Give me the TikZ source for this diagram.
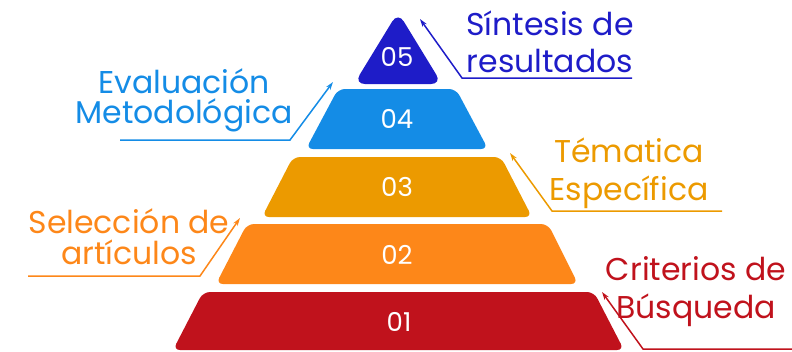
\documentclass[tikz,border=0pt]{standalone}
\usepackage{fontspec}
\setmainfont{Poppins}
\usetikzlibrary{arrows.meta}
\definecolor{tierfive}{RGB}{30,28,200}
\definecolor{tierfour}{RGB}{20,140,230}
\definecolor{tierthree}{RGB}{236,154,0}
\definecolor{tiertwo}{RGB}{253,135,25}
\definecolor{tierone}{RGB}{192,18,28}
\tikzset{
  tier/.style={rounded corners=7pt},
  num/.style={text=white,font=\fontsize{26}{26}\selectfont},
  lbl/.style={align=center,anchor=base,inner sep=0pt},
  conn/.style={line width=1.5pt,-{Stealth[length=8pt,width=5pt]}}
}
\begin{document}
\begin{tikzpicture}[x=1pt,y=-1pt]
\useasboundingbox (0,0) rectangle (792,351);
% pyramid
\fill[tierfive,rounded corners=11pt] (354,84) -- (398,12) -- (442,84) -- cycle;
\fill[tierfour,tier] (306,149) -- (338,89) -- (456,89) -- (488,149) -- cycle;
\fill[tierthree,tier] (262,217) -- (293,157) -- (501,157) -- (532,217) -- cycle;
\fill[tiertwo,tier] (216,284) -- (247,224) -- (548,224) -- (578,284) -- cycle;
\fill[tierone,tier] (173,350) -- (203,292) -- (594,292) -- (624,350) -- cycle;
\node[num] (n5) at (397,57) {05};
\node[num] (n4) at (397,119) {04};
\node[num] (n3) at (397,187) {03};
\node[num] (n2) at (397,255) {02};
\node[num] (n1) at (399,322) {01};
% labels (base = last line)
\node[lbl,text=tierfive,font=\fontsize{31.5}{37}\selectfont] (l5) at (550,72) {Síntesis de\\resultados};
\node[lbl,text=tierfour,font=\fontsize{31.5}{30}\selectfont] (l4) at (184,123) {Evaluación\\Metodológica};
\node[lbl,text=tierthree,font=\fontsize{31.5}{38}\selectfont] (l3) at (629,200) {Tématica\\Específica};
\node[lbl,text=tiertwo,font=\fontsize{31.5}{31}\selectfont] (l2) at (129,264) {Selección de\\artículos};
\node[lbl,text=tierone,font=\fontsize{31.5}{38}\selectfont] (l1) at (696,318) {Criterios de\\Búsqueda};
% connectors
\coordinate (t5) at (420,19); \coordinate (k5) at (462,78); \coordinate (e5) at (632,78);
\coordinate (t4) at (333,82); \coordinate (k4) at (290,140); \coordinate (e4) at (120,140);
\coordinate (t3) at (510,153); \coordinate (k3) at (552,211); \coordinate (e3) at (722,211);
\coordinate (t2) at (240,218); \coordinate (k2) at (200,276); \coordinate (e2) at (28,276);
\coordinate (t1) at (602,292); \coordinate (k1) at (643,349); \coordinate (e1) at (792,349);
\draw[conn,tierfive] (e5) -- (k5) -- (t5);
\draw[conn,tierfour] (e4) -- (k4) -- (t4);
\draw[conn,tierthree] (e3) -- (k3) -- (t3);
\draw[conn,tiertwo] (e2) -- (k2) -- (t2);
\draw[conn,tierone] (e1) -- (k1) -- (t1);
\end{tikzpicture}
\end{document}
